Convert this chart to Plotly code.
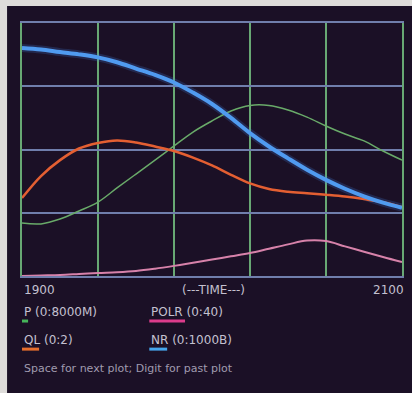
import plotly.graph_objects as go

# simulation run, values scaled 0..1 on the shared vertical axis
years = [1900, 1910, 1920, 1930, 1940, 1950, 1960, 1970, 1980, 1990, 2000,
         2010, 2020, 2030, 2040, 2050, 2060, 2070, 2080, 2090, 2100]

nr = [0.901, 0.895, 0.885, 0.876, 0.864, 0.845, 0.820, 0.795, 0.765, 0.725, 0.680,
      0.625, 0.565, 0.512, 0.465, 0.420, 0.380, 0.345, 0.315, 0.290, 0.270]
pop = [0.209, 0.206, 0.225, 0.257, 0.292, 0.348, 0.403, 0.458, 0.514, 0.569, 0.613,
       0.652, 0.674, 0.674, 0.656, 0.628, 0.593, 0.561, 0.534, 0.494, 0.458]
ql = [0.308, 0.395, 0.458, 0.504, 0.526, 0.536, 0.528, 0.512, 0.494, 0.468, 0.437,
      0.400, 0.366, 0.344, 0.333, 0.327, 0.321, 0.314, 0.304, 0.292, 0.273]
polr = [0.000, 0.002, 0.004, 0.008, 0.012, 0.015, 0.020, 0.029, 0.040, 0.052, 0.065,
        0.078, 0.091, 0.108, 0.125, 0.140, 0.138, 0.117, 0.096, 0.075, 0.055]

axis_labels = ["1900", "(---TIME---)", "2100"]
legend_labels = ["P (0:8000M)", "POLR (0:40)", "QL (0:2)", "NR (0:1000B)"]
prompt = "Space for next plot; Digit for past plot"

SCREEN = "rgb(27,16,38)"
GRID_H = "rgb(112,126,172)"
GRID_V = "rgb(104,168,116)"
TXT = "rgb(196,192,208)"
GREEN = "rgb(70,180,90)"
PINK = "rgb(220,60,140)"
ORANGE = "rgb(230,110,45)"
BLUE = "rgb(70,165,235)"

fig = go.Figure()

# soft glow under the NR curve
fig.add_trace(go.Scatter(x=years, y=nr, mode="lines", line=dict(color="rgba(70,140,240,0.2)", width=8, shape="spline"),
                         hoverinfo="skip", showlegend=False))
fig.add_trace(go.Scatter(x=years, y=polr, mode="lines", line=dict(color="rgb(215,130,170)", width=2, shape="spline"),
                         name="POLR", showlegend=False))
fig.add_trace(go.Scatter(x=years, y=pop, mode="lines", line=dict(color="rgb(105,170,105)", width=1.5, shape="spline"),
                         name="P", showlegend=False))
fig.add_trace(go.Scatter(x=years, y=ql, mode="lines", line=dict(color="rgb(228,95,50)", width=2.5, shape="spline"),
                         name="QL", showlegend=False))
fig.add_trace(go.Scatter(x=years, y=nr, mode="lines", line=dict(color="rgb(80,155,240)", width=4, shape="spline"),
                         name="NR", showlegend=False))

# dark monitor screen behind everything
fig.add_shape(type="rect", xref="paper", yref="paper", x0=-0.0393, x1=1.03, y0=-0.47, y1=1.067,
              fillcolor=SCREEN, line=dict(width=0), layer="below")

font = dict(family="DejaVu Sans", size=12, color=TXT)
fig.add_annotation(x=years[0], xref="x", y=-0.055, yref="paper", text=axis_labels[0],
                   showarrow=False, xanchor="left", yanchor="middle", font=font)
fig.add_annotation(x=0.505, xref="paper", y=-0.055, yref="paper", text=axis_labels[1],
                   showarrow=False, xanchor="center", yanchor="middle", font=font)
fig.add_annotation(x=1.01, xref="paper", y=-0.055, yref="paper", text=axis_labels[2],
                   showarrow=False, xanchor="right", yanchor="middle", font=font)

# legend: label with a coloured bar under its name
legend_pos = [(0.0, -0.142), (0.335, -0.142), (0.0, -0.253), (0.335, -0.253)]
legend_bar = [(0.0, 0.016, GREEN), (0.335, 0.094, PINK), (0.0, 0.045, ORANGE), (0.335, 0.047, BLUE)]
for label, (lx, ly), (bx, bw, bc) in zip(legend_labels, legend_pos, legend_bar):
    fig.add_annotation(x=lx, xref="paper", y=ly, yref="paper", text=label, showarrow=False,
                       xanchor="left", yanchor="middle", font=font)
    fig.add_shape(type="line", xref="paper", yref="paper", x0=bx, x1=bx + bw, y0=ly - 0.036, y1=ly - 0.036,
                  line=dict(color=bc, width=3))

fig.add_annotation(x=0.0, xref="paper", y=-0.364, yref="paper", text=prompt, showarrow=False,
                   xanchor="left", yanchor="middle", font=dict(family="DejaVu Sans", size=11, color="rgb(160,155,175)"))

fig.update_layout(
    width=412, height=393,
    margin=dict(l=22, r=8, t=23, b=117),
    paper_bgcolor="rgb(222,220,218)",
    plot_bgcolor="rgba(0,0,0,0)",
    xaxis=dict(range=[1900, 2100], tick0=1900, dtick=40, showticklabels=False, ticks="",
               showgrid=True, gridcolor=GRID_V, gridwidth=1.5, zeroline=False,
               showline=True, linecolor=GRID_H, linewidth=1.5, mirror=True),
    yaxis=dict(range=[0, 1], dtick=0.25, showticklabels=False, ticks="",
               showgrid=True, gridcolor=GRID_H, gridwidth=1.5, zeroline=False,
               showline=True, linecolor=GRID_V, linewidth=1.5, mirror=True),
    showlegend=False,
)

# drop the default page margin so the figure sits at the window corner
fig.write_html("out.html", config={"displayModeBar": False},
               post_script="document.body.style.margin='0';")
